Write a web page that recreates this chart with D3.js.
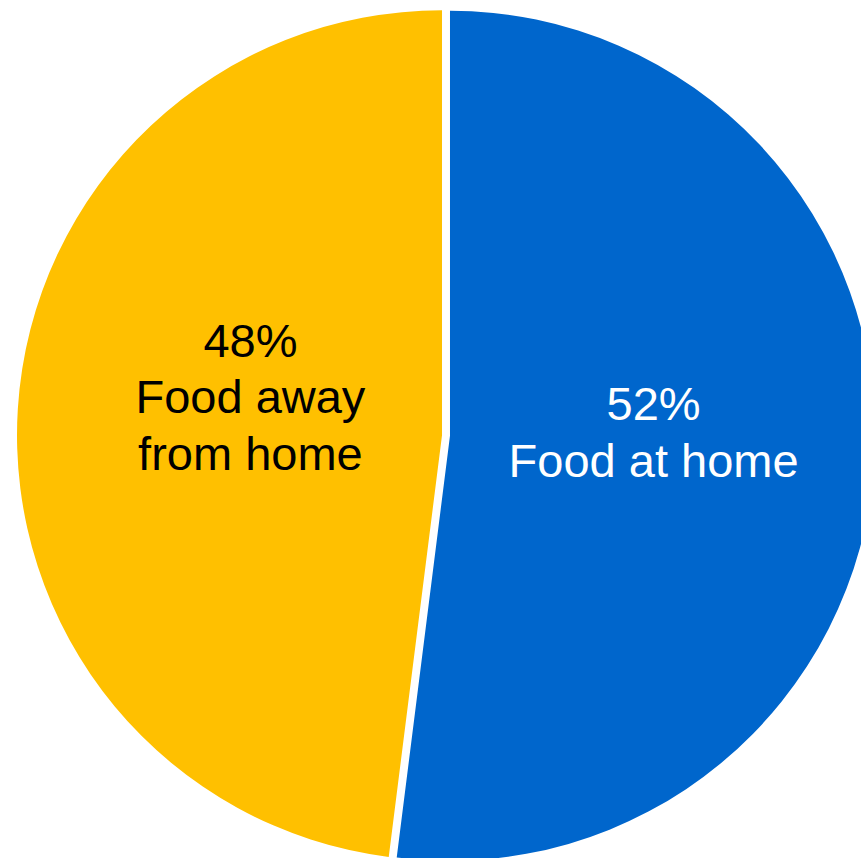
<!DOCTYPE html>
<html>
<head>
<meta charset="utf-8">
<script src="https://cdn.jsdelivr.net/npm/d3@7"></script>
<style>
  html, body { margin: 0; padding: 0; background: #fff; overflow: hidden; }
  svg text { font-family: "Liberation Sans", Arial, sans-serif; }
</style>
</head>
<body>
<script>
// data
const categories = ['Food at home', 'Food away from home'];
const shares = [52, 48];
const labelLines = [['Food at home'], ['Food away', 'from home']];

const colors = ['#0066CC', '#FFC000'];
const textColors = ['#ffffff', '#000000'];

const w = 861,
      h = 858,
      cx = 446,
      cy = 435.5,
      r = 425,
      explode = 4,
      labelR = 204,
      lineH = 56.5;

// small per-slice nudge of the label block (layout only)
const labelNudge = [[0, 0], [12, -9]];

const svg = d3.select('body')
            .append('svg')
            .attr('width', w)
            .attr('height', h);

const pie = d3.pie()
            .sort(null)
            .value((d) => d.value);

const slices = pie(categories.map((c, i) => ({ name: c, value: shares[i], i: i })));

const arc = d3.arc()
            .innerRadius(0)
            .outerRadius(r);

const mid = (d) => (d.startAngle + d.endAngle) / 2;

const g = svg.selectAll('g.slice')
    .data(slices)
    .enter()
    .append('g')
    .attr('class', 'slice')
    .attr('transform', (d) => {
        const a = mid(d);
        return 'translate(' + (cx + explode * Math.sin(a)) + ',' + (cy - explode * Math.cos(a)) + ')';
    });

g.append('path')
    .attr('d', arc)
    .attr('fill', (d) => colors[d.data.i]);

g.each(function (d) {
    const i = d.data.i;
    const a = mid(d);
    const lines = [shares[i] + '%'].concat(labelLines[i]);
    const lx = labelR * Math.sin(a) + labelNudge[i][0];
    const ly = -labelR * Math.cos(a) + labelNudge[i][1];
    const t = d3.select(this).append('text')
        .attr('text-anchor', 'middle')
        .attr('font-size', 47)
        .attr('fill', textColors[i]);
    lines.forEach((s, k) => {
        t.append('tspan')
            .attr('x', lx)
            .attr('y', ly + (k - (lines.length - 1) / 2) * lineH)
            .text(s);
    });
});
</script>
</body>
</html>
